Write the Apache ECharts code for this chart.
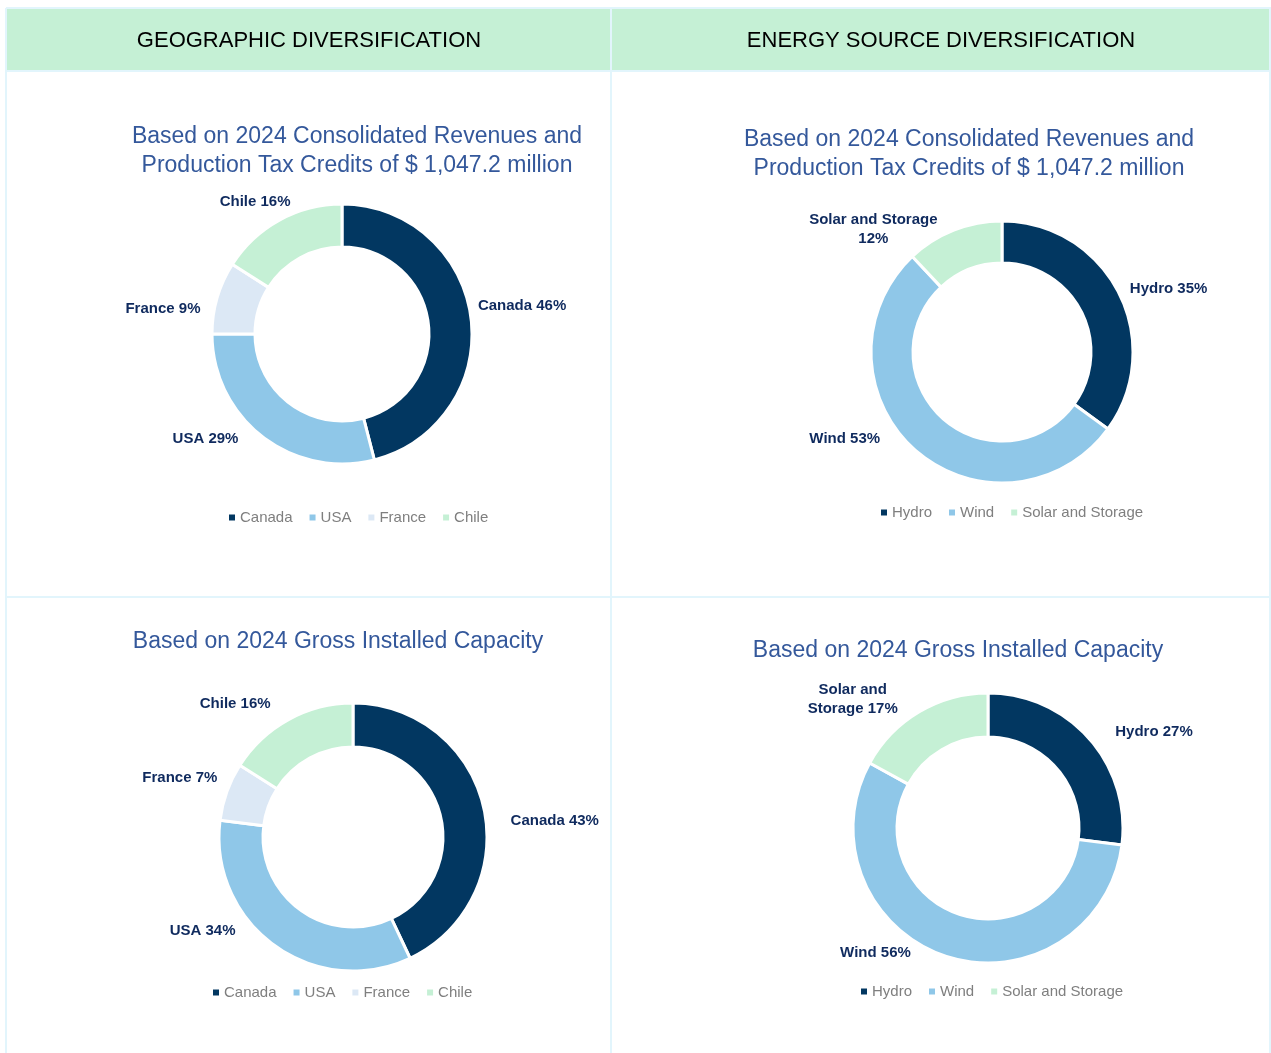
<!DOCTYPE html>
<html>
<head>
<meta charset="utf-8">
<title>Diversification</title>
<script src="https://cdn.jsdelivr.net/npm/echarts@6/dist/echarts.min.js"></script>
<style>
  html, body { margin: 0; padding: 0; background: #fff; }
  #main { width: 1271px; height: 1053px; }
</style>
</head>
<body>
<div id="main"></div>
<script>
// chart data
var geoNames = ['Canada', 'USA', 'France', 'Chile'];
var geoRevenue = [46, 29, 9, 16];
var geoCapacity = [43, 34, 7, 16];
var energyNames = ['Hydro', 'Wind', 'Solar and Storage'];
var energyRevenue = [35, 53, 12];
var energyCapacity = [27, 56, 17];

var headers = ['GEOGRAPHIC DIVERSIFICATION', 'ENERGY SOURCE DIVERSIFICATION'];
var revenueTitle = 'Based on 2024 Consolidated Revenues and\nProduction Tax Credits of $ 1,047.2 million';
var capacityTitle = 'Based on 2024 Gross Installed Capacity';

var geoColors = ['#023761', '#8fc7e8', '#dce8f5', '#c5f0d5'];
var energyColors = ['#023761', '#8fc7e8', '#c5f0d5'];

var FONT = '"Liberation Sans", Arial, sans-serif';
var NAVY = '#0f2a5e';
var TITLE_BLUE = '#34589b';
var GRID = '#e2f5fc';

// small label nudges (dx, dy) to mimic the original placement
var nudgeGeoRev = [[-12, -11], [-8, -4], [2, 13], [26, -11]];
var nudgeEnergyRev = [[-7, 0], [-19, -17], [-4, 7]];
var nudgeGeoCap = [[8, 15], [-23, -21], [9, -11], [-3, -9]];
var nudgeEnergyCap = [[9, -2], [-22, -11], [-6, -6]];

function toData(names, values, colors) {
	return names.map(function(n, i) {
		return { name: n, value: values[i], itemStyle: { color: colors[i] } };
	});
}

function pieSeries(data, center, radius, nudge, formatter, rich) {
	return {
		type: 'pie',
		center: center,
		radius: radius,
		startAngle: 90,
		clockwise: true,
		avoidLabelOverlap: false,
		silent: true,
		itemStyle: { borderColor: '#fff', borderWidth: 3 },
		label: {
			show: true,
			position: 'outside',
			color: NAVY,
			fontFamily: FONT,
			fontWeight: 'bold',
			fontSize: 15,
			lineHeight: 19,
			formatter: formatter || '{b} {c}%',
			rich: rich || {}
		},
		labelLine: { show: false, length: 8, length2: 6 },
		labelLayout: function(p) {
			var n = nudge[p.dataIndex] || [0, 0];
			return { dx: n[0], dy: n[1] };
		},
		data: data
	};
}

function legendAt(names, left, top) {
	return {
		data: names,
		left: left,
		top: top,
		icon: 'rect',
		itemWidth: 6,
		itemHeight: 6,
		itemGap: 17,
		selectedMode: false,
		itemStyle: { borderWidth: 0 },
		textStyle: { color: '#7f7f7f', fontSize: 15, fontFamily: FONT }
	};
}

function hline(y, x1, x2) {
	return { type: 'line', shape: { x1: x1, y1: y, x2: x2, y2: y }, style: { stroke: GRID, lineWidth: 2 }, silent: true };
}
function vline(x, y1, y2) {
	return { type: 'line', shape: { x1: x, y1: y1, x2: x, y2: y2 }, style: { stroke: GRID, lineWidth: 2 }, silent: true };
}
function textAt(text, x, y, font, color) {
	return {
		type: 'text', x: x, y: y, silent: true,
		style: { text: text, font: font, fill: color, align: 'center', verticalAlign: 'middle', lineHeight: 29 }
	};
}

var myChart = echarts.init(document.getElementById('main'));

var option = {
	backgroundColor: '#fff',
	animation: false,
	graphic: [
		{ type: 'rect', shape: { x: 7, y: 9, width: 603, height: 61 }, style: { fill: '#c5f0d5' }, silent: true },
		{ type: 'rect', shape: { x: 612, y: 9, width: 659, height: 61 }, style: { fill: '#c5f0d5' }, silent: true },
		hline(8, 6, 1271),
		hline(71, 6, 1271),
		hline(597, 6, 1271),
		vline(6, 8, 1053),
		vline(611, 8, 1053),
		vline(1270, 8, 1053),
		textAt(headers[0], 309, 41, '22px ' + FONT, '#000'),
		textAt(headers[1], 941, 41, '22px ' + FONT, '#000'),
		textAt(revenueTitle, 357, 151, '23px ' + FONT, TITLE_BLUE),
		textAt(revenueTitle, 969, 154, '23px ' + FONT, TITLE_BLUE),
		textAt(capacityTitle, 338, 642, '23px ' + FONT, TITLE_BLUE),
		textAt(capacityTitle, 958, 651, '23px ' + FONT, TITLE_BLUE)
	],
	legend: [
		legendAt(geoNames, 224, 505),
		legendAt(energyNames, 876, 500),
		legendAt(geoNames, 208, 980),
		legendAt(energyNames, 856, 979)
	],
	series: [
		pieSeries(toData(geoNames, geoRevenue, geoColors), [342, 334], [87, 130], nudgeGeoRev),
		pieSeries(toData(energyNames, energyRevenue, energyColors), [1002, 352], [89, 131], nudgeEnergyRev, function(p) {
			return p.name === 'Solar and Storage'
				? '{c|' + p.name + '}\n{c|' + p.value + '%}'
				: p.name + ' ' + p.value + '%';
		}, { c: { width: 125, align: 'center', color: NAVY, fontFamily: FONT, fontWeight: 'bold', fontSize: 15, lineHeight: 19 } }),
		pieSeries(toData(geoNames, geoCapacity, geoColors), [353, 837], [90, 134], nudgeGeoCap),
		pieSeries(toData(energyNames, energyCapacity, energyColors), [988, 828], [91, 135], nudgeEnergyCap, function(p) {
			return p.name === 'Solar and Storage'
				? '{c|Solar and}\n{c|Storage ' + p.value + '%}'
				: p.name + ' ' + p.value + '%';
		}, { c: { width: 91, align: 'center', color: NAVY, fontFamily: FONT, fontWeight: 'bold', fontSize: 15, lineHeight: 19 } })
	]
};

myChart.setOption(option);
</script>
</body>
</html>
